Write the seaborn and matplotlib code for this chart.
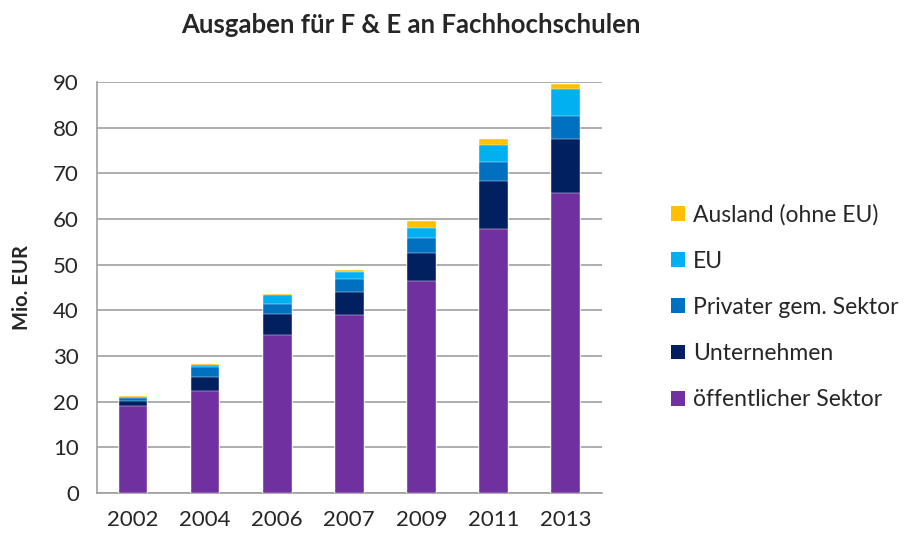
import matplotlib
matplotlib.use("Agg")
import matplotlib.pyplot as plt
import seaborn as sns
import numpy as np
import pandas as pd
from matplotlib.patches import Patch

years = ['2002', '2004', '2006', '2007', '2009', '2011', '2013']
oeffentlich = [19.1, 22.4, 34.6, 39.0, 46.5, 57.9, 65.8]
unternehmen = [1.1, 3.1, 4.5, 5.1, 6.0, 10.4, 11.7]
privat = [0.6, 2.1, 2.2, 2.8, 3.3, 4.1, 5.0]
eu = [0.3, 0.5, 2.1, 1.6, 2.3, 3.9, 5.9]
ausland = [0.2, 0.1, 0.2, 0.3, 1.4, 1.3, 1.1]

series = ['öffentlicher Sektor', 'Unternehmen', 'Privater gem. Sektor', 'EU', 'Ausland (ohne EU)']
colors = ['#7030A0', '#002060', '#0070C0', '#00B0F0', '#FFC000']

sns.set_style('white')
plt.rcParams['font.family'] = ['Lato', 'DejaVu Sans']

df = pd.DataFrame({'Jahr': years, series[0]: oeffentlich, series[1]: unternehmen,
                   series[2]: privat, series[3]: eu, series[4]: ausland})
cum = df[series].cumsum(axis=1)
cum['Jahr'] = years

fig = plt.figure(figsize=(9.06, 5.37), dpi=100)
ax = fig.add_axes([0.107, 0.082, 0.557, 0.765])

# stacked bars: draw cumulative totals from top layer down
for name, col in zip(series[::-1], colors[::-1]):
    sns.barplot(data=cum, x='Jahr', y=name, color=col, width=0.4,
                saturation=1, ax=ax, edgecolor='white', linewidth=0.3, zorder=3)

ax.set_ylim(0, 90)
ax.set_yticks(np.arange(0, 91, 10))
ax.set_xlim(-0.5, len(years) - 0.5)
ax.yaxis.grid(True, color='#a0a0a0', linewidth=1.2, zorder=0)
ax.set_axisbelow(True)
for s in ['top', 'right']:
    ax.spines[s].set_visible(False)
for s in ['left', 'bottom']:
    ax.spines[s].set_color('#a0a0a0')
    ax.spines[s].set_linewidth(1.2)

ax.set_xticks(np.arange(-0.5, len(years), 1), minor=True)
ax.tick_params(axis='x', which='major', length=0, labelsize=16, pad=12)
ax.tick_params(axis='x', which='minor', length=6, color='#a0a0a0', width=1.2)
ax.tick_params(axis='y', length=5, color='#a0a0a0', width=1.2, labelsize=16, pad=8)

ax.set_xlabel('')
ax.set_ylabel('Mio. EUR', fontsize=14.5, fontweight='bold')
ax.yaxis.set_label_coords(-0.128, 0.5)
fig.suptitle('Ausgaben für F & E an Fachhochschulen', x=0.454, y=0.975,
             fontsize=18.5, fontweight='bold')

handles = [Patch(facecolor=c, edgecolor='none', label=n)
           for n, c in zip(series[::-1], colors[::-1])]
fig.legend(handles=handles, loc='center left', bbox_to_anchor=(0.728, 0.428),
           frameon=False, fontsize=16.5, labelspacing=1.1, handlelength=0.62,
           handleheight=0.62, handletextpad=0.35, borderpad=0)

fig.savefig('out.png', dpi=100)
